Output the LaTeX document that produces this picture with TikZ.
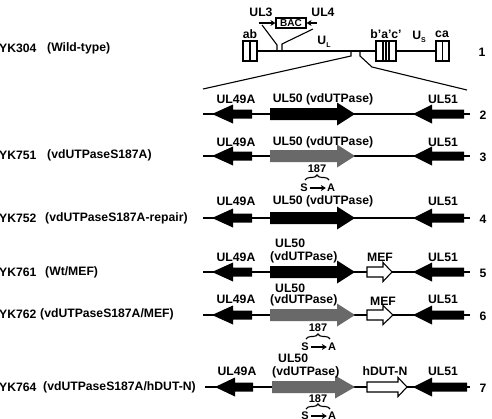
\documentclass[tikz,border=0pt]{standalone}
\usepackage{fontspec}
\setmainfont{Liberation Sans}
\usetikzlibrary{arrows.meta,decorations.pathreplacing}
\definecolor{gmid}{RGB}{105,105,105}
\newcommand{\garrow}[7]{\path[#7] (#1,#4-#5) -- (#2,#4-#5) -- (#2,#4-#6) -- (#3,#4) -- (#2,#4+#6) -- (#2,#4+#5) -- (#1,#4+#5) -- cycle;}
\tikzset{
  lbl/.style={font=\fontsize{12.2}{13}\selectfont\bfseries, inner sep=0pt},
  sml/.style={font=\fontsize{11}{12}\selectfont\bfseries, inner sep=0pt},
  ln/.style={line width=1.1pt, line join=miter},
  blk/.style={fill=black},
  gry/.style={fill=gmid},
  wht/.style={fill=white, draw=black, line width=1.1pt},
  brc/.style={decorate, decoration={brace, amplitude=5pt}, line width=1.1pt},
  sa/.style={-{Stealth[length=5pt,width=6pt]}, line width=1.1pt},
  boxp/.style={draw, line width=1.1pt, fill=white}
}
\begin{document}
\begin{tikzpicture}[x=1pt,y=-1pt]
\useasboundingbox (0,0) rectangle (492,418);
% ---------- Row 1: genome ----------
\coordinate (m0) at (257,51);
\coordinate (n1) at (277,51);
\coordinate (n2) at (282,51);
\coordinate (e1) at (351,51);
\coordinate (e2) at (360,51);
\coordinate (m1) at (376,51);
\coordinate (m2) at (396,51);
\coordinate (m3) at (436,51);
\draw[ln] (m0) -- (m1);
\draw[ln] (m2) -- (m3);
% boxes
\draw[boxp] (243,41) rectangle (257,61); \draw[ln] (250,41) -- (250,61);
\draw[boxp] (376,41) rectangle (396,61); \draw[ln] (383,41) -- (383,61); \draw[ln] (386,41) -- (386,61); \draw[ln] (389,41) -- (389,61);
\draw[boxp] (436,41) rectangle (449,61); \draw[ln] (442.5,41) -- (442.5,61);
\node[lbl] (ab) at (250,34) {ab};
\node[lbl] (bac3) at (386,34) {b'a'c'};
\node[lbl] (ca) at (442,34) {ca};
\node[lbl] (ul) at (324,42) {U\raisebox{-0.45ex}{\fontsize{7}{7}\selectfont L}};
\node[lbl] (us) at (419,37) {U\raisebox{-0.45ex}{\fontsize{7}{7}\selectfont S}};
% BAC insertion
\node[sml, draw, line width=1.1pt, minimum width=30pt, minimum height=10pt, font=\fontsize{10}{10}\selectfont\bfseries] (bac) at (291,23) {BAC};
\coordinate (a3) at (259,23);
\coordinate (a4) at (317,23);
\draw[sa] (a3) -- (bac.west);
\draw[sa] (a4) -- (bac.east);
\node[lbl] (ul3) at (261,12) {UL3};
\node[lbl] (ul4) at (323,12) {UL4};
\draw[ln] (262,25) -- (277,45) -- (n1);
\draw[ln] (313,29) -- (282,44) -- (n2);
% expansion lines
\draw[ln] (e1) -- (351,56) -- (203,89);
\draw[ln] (e2) -- (360,56) -- (372,67) -- (467,90);
\node[lbl] (r1) at (482,52) {1};
\node[lbl, anchor=west] (yk304) at (-1,48) {YK304};
\node[lbl, anchor=west] (wt) at (47,48) {(Wild-type)};
% ---------- Row 2 ----------
\coordinate (l2a) at (203,114); \coordinate (l2b) at (470,114);
\draw[ln] (l2a) -- (l2b);
\garrow{252}{233}{212}{114}{4.5}{9.5}{blk}
\garrow{270}{337}{355}{114}{6}{11.5}{blk}
\garrow{464}{432}{413}{114}{4.5}{9.5}{blk}
\node[lbl] (g2a) at (236,99) {UL49A};
\node[lbl] (g2b) at (323,99) {UL50 (vdUTPase)};
\node[lbl] (g2c) at (443,99) {UL51};
\node[lbl] (r2) at (483,115) {2};
% ---------- Row 3 ----------
\coordinate (l3a) at (203,156); \coordinate (l3b) at (470,156);
\draw[ln] (l3a) -- (l3b);
\garrow{252}{233}{212}{156}{4.5}{9.5}{blk}
\garrow{270}{337}{355}{156}{6}{11.5}{gry}
\garrow{464}{432}{413}{156}{4.5}{9.5}{blk}
\node[lbl] (g3a) at (236,142) {UL49A};
\node[lbl] (g3b) at (323,142) {UL50 (vdUTPase)};
\node[lbl] (g3c) at (443,142) {UL51};
\node[lbl] (r3) at (483,157) {3};
\node[sml] (p3) at (317,169) {187};
\draw[brc] (305,180) -- (329,180);
\node[sml] (s3) at (304,188) {S};
\node[sml] (t3) at (331,188) {A};
\draw[sa] ([xshift=2pt]s3.east) -- ([xshift=-1pt]t3.west);
\node[lbl, anchor=west] (yk751) at (-1,155) {YK751};
\node[lbl, anchor=west] (d751) at (47,155) {(vdUTPaseS187A)};
% ---------- Row 4 ----------
\coordinate (l4a) at (203,218); \coordinate (l4b) at (470,218);
\draw[ln] (l4a) -- (l4b);
\garrow{252}{233}{212}{218}{4.5}{9.5}{blk}
\garrow{270}{337}{355}{218}{6}{11.5}{blk}
\garrow{464}{432}{413}{218}{4.5}{9.5}{blk}
\node[lbl] (g4a) at (236,201) {UL49A};
\node[lbl] (g4b) at (323,201) {UL50 (vdUTPase)};
\node[lbl] (g4c) at (443,201) {UL51};
\node[lbl] (r4) at (483,219) {4};
\node[lbl, anchor=west] (yk752) at (-1,218) {YK752};
\node[lbl, anchor=west] (d752) at (45,218) {(vdUTPaseS187A-repair)};
% ---------- Row 5 ----------
\coordinate (l5a) at (203,272); \coordinate (l5b) at (470,272);
\draw[ln] (l5a) -- (l5b);
\garrow{252}{233}{212}{272}{4.5}{9.5}{blk}
\garrow{270}{337}{355}{272}{6}{11.5}{blk}
\garrow{367}{383}{392}{272}{5}{9.5}{wht}
\garrow{464}{432}{413}{272}{4.5}{9.5}{blk}
\node[lbl] (g5a) at (236,257) {UL49A};
\node[lbl, anchor=west] (g5b) at (275,243) {UL50};
\node[lbl, anchor=west] (g5bb) at (270,257) {(vdUTPase)};
\node[lbl] (g5m) at (380,257) {MEF};
\node[lbl] (g5c) at (443,257) {UL51};
\node[lbl] (r5) at (483,273) {5};
\node[lbl, anchor=west] (yk761) at (-1,272) {YK761};
\node[lbl, anchor=west] (d761) at (45,272) {(Wt/MEF)};
% ---------- Row 6 ----------
\coordinate (l6a) at (203,315); \coordinate (l6b) at (470,315);
\draw[ln] (l6a) -- (l6b);
\garrow{252}{233}{212}{315}{4.5}{9.5}{blk}
\garrow{270}{337}{355}{315}{6}{11.5}{gry}
\garrow{367}{383}{393}{315}{5}{9.5}{wht}
\garrow{464}{432}{413}{315}{4.5}{9.5}{blk}
\node[lbl] (g6a) at (236,299) {UL49A};
\node[lbl, anchor=west] (g6b) at (275,288) {UL50};
\node[lbl, anchor=west] (g6bb) at (270,300) {(vdUTPase)};
\node[lbl] (g6m) at (383,301) {MEF};
\node[lbl] (g6c) at (443,299) {UL51};
\node[lbl] (r6) at (483,316) {6};
\node[sml] (p6) at (318,328) {187};
\draw[brc] (306,339) -- (330,339);
\node[sml] (s6) at (305,347) {S};
\node[sml] (t6) at (332,347) {A};
\draw[sa] ([xshift=2pt]s6.east) -- ([xshift=-1pt]t6.west);
\node[lbl, anchor=west] (yk762) at (-1,314) {YK762};
\node[lbl, anchor=west] (d762) at (40,314) {(vdUTPaseS187A/MEF)};
% ---------- Row 7 ----------
\coordinate (l7a) at (205,387); \coordinate (l7b) at (470,387);
\draw[ln] (l7a) -- (l7b);
\garrow{253}{235}{215}{387}{4.5}{9.5}{blk}
\garrow{272}{335}{355}{387}{6}{11.5}{gry}
\garrow{367}{398}{407}{387}{5}{9.5}{wht}
\garrow{467}{432}{413}{387}{4.5}{9.5}{blk}
\node[lbl] (g7a) at (237,371) {UL49A};
\node[lbl, anchor=west] (g7b) at (278,358) {UL50};
\node[lbl, anchor=west] (g7bb) at (272,372) {(vdUTPase)};
\node[lbl] (g7m) at (385,371) {hDUT-N};
\node[lbl] (g7c) at (443,371) {UL51};
\node[lbl] (r7) at (483,388) {7};
\node[sml] (p7) at (318,399) {187};
\draw[brc] (306,409) -- (330,409);
\node[sml] (s7) at (305,416) {S};
\node[sml] (t7) at (332,416) {A};
\draw[sa] ([xshift=2pt]s7.east) -- ([xshift=-1pt]t7.west);
\node[lbl, anchor=west] (yk764) at (-1,387) {YK764};
\node[lbl, anchor=west] (d764) at (43,387) {(vdUTPaseS187A/hDUT-N)};
\end{tikzpicture}
\end{document}
